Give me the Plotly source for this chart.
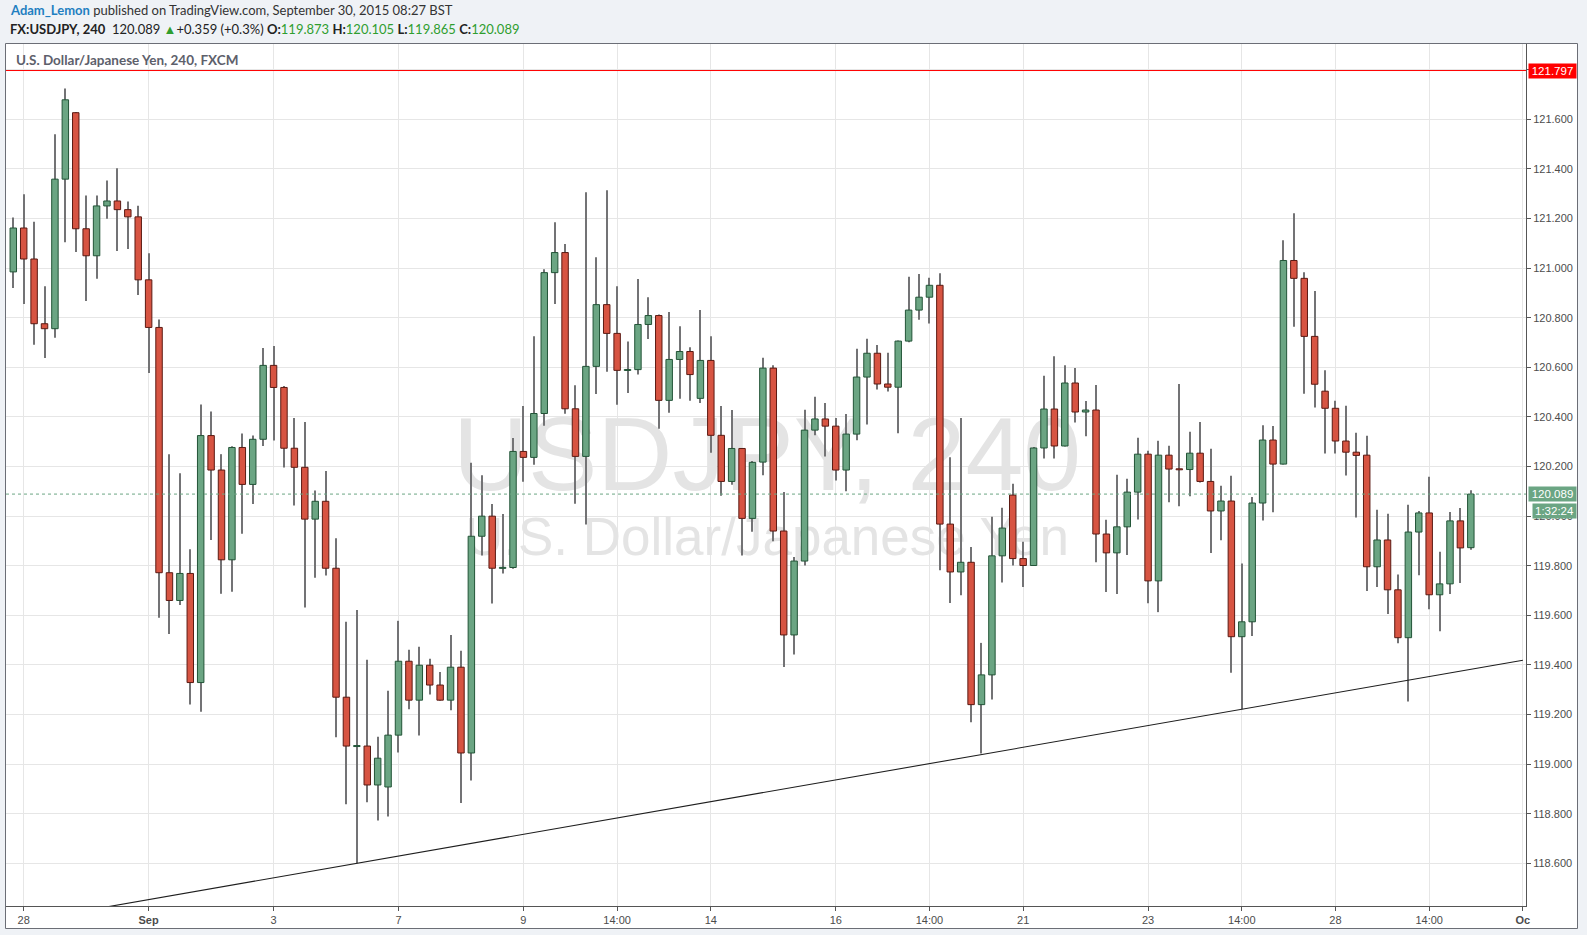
import plotly.graph_objects as go

# ---------------- data ----------------
candle_idx = list(range(141))

opens = [120.985, 121.162, 121.037, 120.776, 120.756, 121.359, 121.627, 121.159, 121.050, 121.251,
         121.271, 121.236, 121.207, 120.953, 120.761, 119.772, 119.660, 119.769, 119.329, 120.325,
         120.186, 119.824, 120.277, 120.128, 120.310, 120.608, 120.519, 120.274, 120.197, 119.988,
         120.060, 119.790, 119.270, 119.072, 119.073, 118.916, 118.908, 119.117, 119.415, 119.258,
         119.399, 119.319, 119.258, 119.391, 119.045, 119.919, 120.000, 119.790, 119.793, 120.261,
         120.237, 120.414, 120.982, 121.063, 120.433, 120.241, 120.604, 120.853, 120.737, 120.588,
         120.591, 120.773, 120.809, 120.467, 120.632, 120.664, 120.475, 120.628, 120.326, 120.140,
         120.273, 119.991, 120.218, 120.597, 119.940, 119.521, 119.819, 120.347, 120.392, 120.363,
         120.186, 120.331, 120.561, 120.657, 120.533, 120.520, 120.706, 120.831, 120.883, 120.931,
         119.968, 119.775, 119.814, 119.240, 119.360, 119.840, 120.085, 119.829, 119.801, 120.275,
         120.432, 120.283, 120.537, 120.420, 120.428, 119.928, 119.852, 119.957, 120.097, 120.250,
         119.739, 120.246, 120.190, 120.188, 120.254, 120.140, 120.021, 120.061, 119.514, 119.574,
         120.053, 120.307, 120.210, 121.031, 120.959, 120.725, 120.504, 120.435, 120.303, 120.258,
         120.246, 119.796, 119.904, 119.703, 119.510, 119.936, 120.013, 119.683, 119.727, 119.981,
         119.873]

highs = [121.204, 121.298, 121.187, 120.927, 121.540, 121.725, 121.630, 121.293, 121.293, 121.354,
         121.403, 121.269, 121.252, 121.060, 120.793, 120.250, 120.173, 119.867, 120.450, 120.422,
         120.250, 120.282, 120.333, 120.325, 120.678, 120.686, 120.525, 120.396, 120.380, 120.104,
         120.182, 119.911, 119.574, 119.622, 119.421, 119.110, 119.296, 119.578, 119.461, 119.473,
         119.425, 119.372, 119.521, 119.457, 120.215, 120.165, 120.049, 120.009, 120.315, 120.444,
         120.726, 120.996, 121.185, 121.097, 120.528, 121.306, 121.044, 121.314, 120.927, 120.704,
         120.956, 120.883, 120.813, 120.823, 120.766, 120.681, 120.831, 120.726, 120.444, 120.428,
         120.275, 120.222, 120.639, 120.609, 120.097, 119.835, 120.429, 120.482, 120.456, 120.396,
         120.412, 120.675, 120.715, 120.690, 120.659, 120.708, 120.965, 120.977, 120.961, 120.980,
         120.238, 120.396, 119.876, 119.489, 119.998, 120.034, 120.131, 119.897, 120.279, 120.566,
         120.645, 120.609, 120.597, 120.464, 120.529, 119.986, 120.167, 120.151, 120.316, 120.264,
         120.304, 120.284, 120.533, 120.340, 120.380, 120.272, 120.123, 120.163, 119.809, 120.077,
         120.367, 120.364, 121.113, 121.221, 120.984, 120.908, 120.588, 120.465, 120.445, 120.336,
         120.324, 120.026, 120.010, 119.765, 120.046, 120.021, 120.159, 119.857, 120.017, 120.033,
         120.105]

lows = [120.920, 120.856, 120.691, 120.638, 120.719, 121.105, 121.065, 120.868, 120.957, 121.199,
        121.069, 121.077, 120.892, 120.577, 119.590, 119.525, 119.642, 119.241, 119.211, 119.904,
        119.687, 119.695, 119.929, 120.049, 120.283, 120.305, 120.196, 120.043, 119.632, 119.752,
        119.761, 119.108, 118.838, 118.600, 118.846, 118.773, 118.789, 119.047, 119.221, 119.116,
        119.281, 119.256, 119.217, 118.843, 118.934, 119.841, 119.648, 119.769, 119.788, 120.139,
        120.207, 120.365, 120.856, 120.413, 120.050, 119.966, 120.493, 120.582, 120.449, 120.497,
        120.571, 120.714, 120.352, 120.417, 120.473, 120.465, 120.456, 120.256, 120.082, 120.127,
        119.841, 119.937, 120.165, 119.899, 119.392, 119.442, 119.801, 120.326, 120.241, 120.144,
        120.100, 120.306, 120.370, 120.511, 120.503, 120.334, 120.701, 120.792, 120.777, 119.782,
        119.650, 119.681, 119.169, 119.043, 119.261, 119.733, 119.801, 119.714, 119.799, 120.233,
        120.233, 120.281, 120.378, 120.322, 119.814, 119.694, 119.686, 119.843, 119.987, 119.649,
        119.613, 120.056, 120.040, 120.080, 120.136, 119.851, 119.903, 119.369, 119.221, 119.517,
        119.983, 120.016, 120.208, 120.764, 120.494, 120.438, 120.253, 120.253, 120.164, 119.995,
        119.698, 119.714, 119.605, 119.488, 119.253, 119.762, 119.625, 119.536, 119.686, 119.730,
        119.865]

closes = [121.162, 121.037, 120.776, 120.756, 121.359, 121.679, 121.159, 121.050, 121.251, 121.271,
          121.236, 121.207, 120.953, 120.761, 119.772, 119.660, 119.769, 119.329, 120.325, 120.186,
          119.824, 120.277, 120.128, 120.310, 120.608, 120.519, 120.274, 120.197, 119.988, 120.060,
          119.790, 119.270, 119.073, 119.074, 118.916, 119.024, 119.117, 119.415, 119.258, 119.399,
          119.319, 119.258, 119.391, 119.045, 119.919, 120.000, 119.790, 119.793, 120.261, 120.237,
          120.414, 120.982, 121.063, 120.433, 120.241, 120.604, 120.853, 120.737, 120.588, 120.591,
          120.773, 120.809, 120.467, 120.632, 120.664, 120.571, 120.628, 120.326, 120.140, 120.273,
          119.991, 120.217, 120.597, 119.940, 119.521, 119.819, 120.347, 120.392, 120.363, 120.186,
          120.331, 120.561, 120.657, 120.533, 120.520, 120.706, 120.831, 120.883, 120.931, 119.968,
          119.775, 119.814, 119.240, 119.360, 119.840, 119.952, 119.829, 119.801, 120.275, 120.432,
          120.283, 120.537, 120.420, 120.428, 119.928, 119.852, 119.957, 120.097, 120.250, 119.739,
          120.246, 120.190, 120.188, 120.254, 120.140, 120.021, 120.061, 119.514, 119.574, 120.053,
          120.307, 120.210, 121.031, 120.959, 120.725, 120.532, 120.435, 120.303, 120.258, 120.245,
          119.796, 119.904, 119.703, 119.510, 119.936, 120.013, 119.683, 119.727, 119.981, 119.872,
          120.089]

tick_idx = [1, 13, 25, 37, 49, 58, 67, 79, 88, 97, 109, 118, 127, 136, 145]
tick_text = ["28", "<b>Sep</b>", "3", "7", "9", "14:00", "14", "16", "14:00",
             "21", "23", "14:00", "28", "14:00", "<b>Oc</b>"]

trend_idx = [33, 145]
trend_price = [118.600, 119.419]

hline_price = 121.797
last_price = 120.089
timer_text = "1:32:24"

# ---------------- geometry helpers ----------------
W, H = 1587, 935
L_M, R_M, T_M, B_M = 6, 61, 44, 29
PW = W - L_M - R_M
PH = H - T_M - B_M
X_RANGE = [-0.70, 145.3]
Y_RANGE = [118.428, 121.904]


def px_x(p):
    return (p - L_M) / PW


def px_y(p):
    return (H - B_M - p) / PH


def data_x(p):
    return X_RANGE[0] + (p - L_M) / PW * (X_RANGE[1] - X_RANGE[0])


def data_y(p):
    return Y_RANGE[1] - (p - T_M) / PH * (Y_RANGE[1] - Y_RANGE[0])


UP_FILL, UP_LINE = "#6ba583", "#225437"
DN_FILL, DN_LINE = "#d75442", "#5b1a13"
WICK = "#737375"
GREEN_TXT = "#2f9e2f"
PAGE_BG = "#eff2f6"

fig = go.Figure()

# wicks (thin bars from low to high)
fig.add_trace(go.Bar(
    x=candle_idx, y=[h - l for h, l in zip(highs, lows)], base=lows,
    width=0.1, marker=dict(color=WICK, line=dict(width=0)),
    hoverinfo="skip", showlegend=False))

# bodies
MIN_BODY = 0.004
for up in (True, False):
    xs, base, hgt = [], [], []
    for i, o, c in zip(candle_idx, opens, closes):
        if (c >= o) == up:
            lo, hi = min(o, c), max(o, c)
            if hi - lo < MIN_BODY:
                mid = (hi + lo) / 2
                lo, hi = mid - MIN_BODY / 2, mid + MIN_BODY / 2
            xs.append(i)
            base.append(lo)
            hgt.append(hi - lo)
    fig.add_trace(go.Bar(
        x=xs, y=hgt, base=base, width=0.62,
        marker=dict(color=UP_FILL if up else DN_FILL,
                    line=dict(color=UP_LINE if up else DN_LINE, width=1)),
        hoverinfo="skip", showlegend=False))

# trend line (extended through the plot)
slope = (trend_price[1] - trend_price[0]) / (trend_idx[1] - trend_idx[0])
tx = [X_RANGE[0], trend_idx[1]]
ty = [trend_price[0] + (x - trend_idx[0]) * slope for x in tx]
fig.add_trace(go.Scatter(x=tx, y=ty, mode="lines",
                         line=dict(color="#1e1e1e", width=1.1),
                         hoverinfo="skip", showlegend=False))

shapes = [
    # white chart pane
    dict(type="rect", xref="paper", yref="paper",
         x0=px_x(5.5), x1=px_x(1577.5), y0=px_y(928.5), y1=px_y(43.5),
         fillcolor="white", line=dict(color="#6b6e76", width=1), layer="below"),
    # watermark line 1
    dict(type="rect", xref="x", yref="y",
         x0=data_x(400), x1=data_x(1134), y0=data_y(480), y1=data_y(407),
         line=dict(width=0), fillcolor="rgba(0,0,0,0)", layer="between",
         label=dict(text="USDJPY, 240", textposition="middle center",
                    font=dict(family="Liberation Sans, Arial", size=104, color="#e4e4e4"))),
    # watermark line 2
    dict(type="rect", xref="x", yref="y",
         x0=data_x(400), x1=data_x(1134), y0=data_y(551), y1=data_y(512),
         line=dict(width=0), fillcolor="rgba(0,0,0,0)", layer="between",
         label=dict(text="U.S. Dollar/Japanese Yen", textposition="middle center",
                    font=dict(family="Liberation Sans, Arial", size=53, color="#e4e4e4"))),
    # red horizontal line
    dict(type="line", xref="paper", yref="y", x0=0, x1=1,
         y0=hline_price, y1=hline_price, line=dict(color="#ff0000", width=1), layer="above"),
    # last price dotted line
    dict(type="line", xref="paper", yref="y", x0=0, x1=1,
         y0=last_price, y1=last_price,
         line=dict(color="#6ba583", width=1, dash="dot"), layer="above"),
]

HDR_FONT = "Lato, Open Sans, sans-serif"
annotations = [
    dict(xref="paper", yref="paper", x=px_x(8), y=px_y(10.5), xanchor="left", yanchor="middle",
         showarrow=False, font=dict(family=HDR_FONT, size=13, color="#333333"),
         text="<b><span style='color:#1f7fc1'>Adam_Lemon</span></b> published on "
              "TradingView.com, September 30, 2015 08:27 BST"),
    dict(xref="paper", yref="paper", x=px_x(8), y=px_y(28.5), xanchor="left", yanchor="middle",
         showarrow=False, font=dict(family=HDR_FONT, size=13, color="#222222"),
         text=("<b>FX:USDJPY, 240</b>  120.089 <span style='color:%s'>▲</span>+0.359 (+0.3%%) "
               "<b>O:</b><span style='color:%s'>119.873</span> "
               "<b>H:</b><span style='color:%s'>120.105</span> "
               "<b>L:</b><span style='color:%s'>119.865</span> "
               "<b>C:</b><span style='color:%s'>120.089</span>")
         % (GREEN_TXT, GREEN_TXT, GREEN_TXT, GREEN_TXT, GREEN_TXT)),
    dict(xref="paper", yref="paper", x=px_x(14), y=px_y(60), xanchor="left", yanchor="middle",
         showarrow=False, font=dict(family=HDR_FONT, size=13.5, color="#5d606b"),
         text="<b>U.S. Dollar/Japanese Yen, 240, FXCM</b>"),
    dict(xref="paper", yref="y", x=px_x(1527.5), y=hline_price, xanchor="left", yanchor="middle",
         showarrow=False, bgcolor="#ff0000", borderpad=1, width=45,
         font=dict(family="Liberation Sans, Arial", size=11.5, color="white"),
         text="%.3f" % hline_price),
    dict(xref="paper", yref="y", x=px_x(1527.5), y=last_price, xanchor="left", yanchor="middle",
         showarrow=False, bgcolor="#6ba583", borderpad=1, width=45,
         font=dict(family="Liberation Sans, Arial", size=11.5, color="white"),
         text="%.3f" % last_price),
    dict(xref="paper", yref="y", x=px_x(1531.5), y=last_price, yshift=-17,
         xanchor="left", yanchor="middle",
         showarrow=False, bgcolor="#6ba583", borderpad=1, width=41,
         font=dict(family="Liberation Sans, Arial", size=11.5, color="white"),
         text=timer_text),
]

AX_FONT = dict(family="Liberation Sans, Arial", size=11, color="#4c4c4c")
fig.update_layout(
    width=W, height=H, autosize=False,
    margin=dict(l=L_M, r=R_M, t=T_M, b=B_M, pad=0),
    paper_bgcolor=PAGE_BG, plot_bgcolor="white",
    barmode="overlay", showlegend=False,
    shapes=shapes, annotations=annotations,
    xaxis=dict(range=X_RANGE, tickmode="array", tickvals=tick_idx, ticktext=tick_text,
               showgrid=True, gridcolor="#e6e6e6", gridwidth=1, zeroline=False,
               showline=True, linecolor="#555555", linewidth=1,
               ticks="outside", ticklen=4, tickcolor="#555555",
               tickfont=AX_FONT, fixedrange=True),
    yaxis=dict(range=Y_RANGE, side="right", tick0=118.6, dtick=0.2, tickformat=".3f",
               showgrid=True, gridcolor="#e6e6e6", gridwidth=1, zeroline=False,
               showline=True, linecolor="#555555", linewidth=1,
               ticks="outside", ticklen=4, tickcolor="#555555",
               tickfont=AX_FONT, fixedrange=True),
)

# remove the browser's default 8px page margin so the figure fills the window exactly
fig.write_html(
    "out.html",
    config={"displayModeBar": False},
    post_script="document.body.style.margin='0px';"
                "document.body.style.background='%s';"
                "document.body.style.overflow='hidden';" % PAGE_BG,
)
